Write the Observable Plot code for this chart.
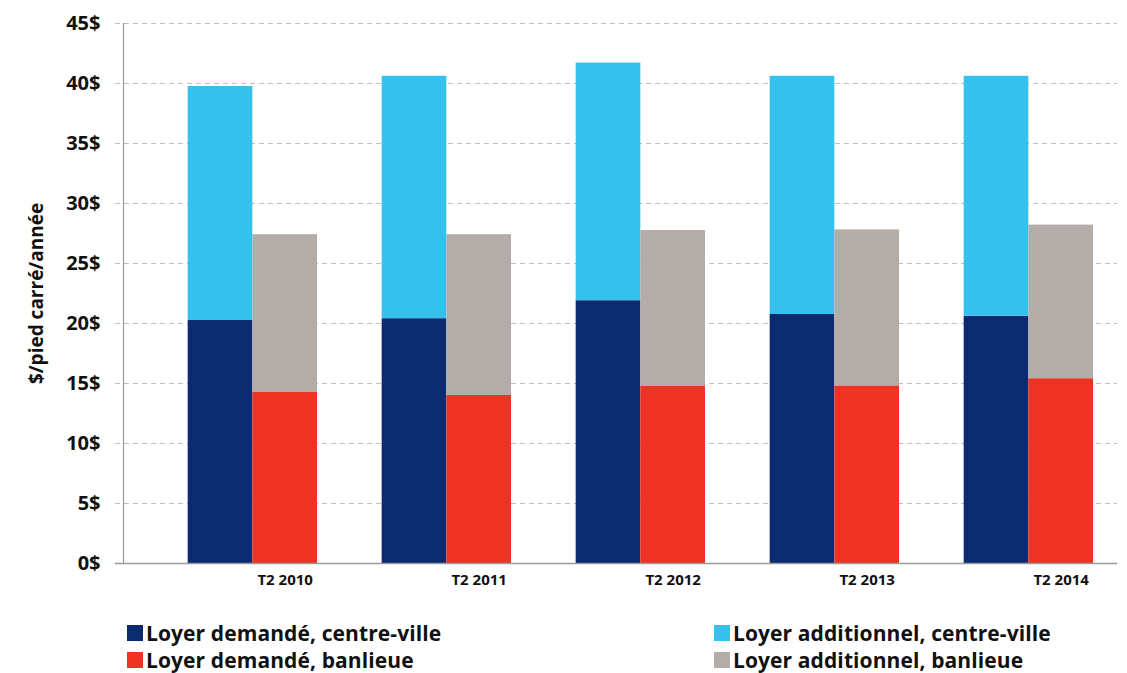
<!DOCTYPE html>
<html>
<head>
<meta charset="utf-8">
<script src="https://cdn.jsdelivr.net/npm/d3@7"></script>
<script src="https://cdn.jsdelivr.net/npm/@observablehq/plot@0.6"></script>
<style>
  html, body { margin: 0; padding: 0; background: #fff; }
  #wrap { position: relative; width: 1127px; height: 673px; overflow: hidden; font-family: "Open Sans", sans-serif; }
  .leg { position: absolute; display: flex; align-items: center; font-weight: 700; font-size: 21px; line-height: 24px; color: #111; white-space: nowrap; letter-spacing: 0.1px; }
  .sw { width: 16px; height: 16px; margin-right: 3px; }
</style>
</head>
<body>
<div id="wrap"></div>
<script>
const groups = ["T2 2010", "T2 2011", "T2 2012", "T2 2013", "T2 2014"];
const baseCentre = [20.25, 20.4, 21.9, 20.75, 20.6];       // Loyer demandé, centre-ville
const addCentre  = [19.5, 20.2, 19.8, 19.85, 20.0];        // Loyer additionnel, centre-ville
const baseBanl   = [14.25, 14.0, 14.75, 14.8, 15.4];        // Loyer demandé, banlieue
const addBanl    = [13.15, 13.4, 13.0, 13.0, 12.8];         // Loyer additionnel, banlieue
const seriesNames = ["Loyer demandé, centre-ville", "Loyer additionnel, centre-ville", "Loyer demandé, banlieue", "Loyer additionnel, banlieue"];
const seriesColors = ["#0b2a6f", "#35c1ee", "#ee3224", "#b4aca9"];
const yTicks = [0, 5, 10, 15, 20, 25, 30, 35, 40, 45];
const yLabel = "$/pied carré/année";

// each group occupies 3 slots: empty gap, centre-ville bar, banlieue bar
const rows = [];
groups.forEach((g, i) => {
  const sCV = i * 3 + 1, sBL = i * 3 + 2;
  rows.push({group: g, slot: sCV, series: seriesNames[0], y1: 0, y2: baseCentre[i]});
  rows.push({group: g, slot: sCV, series: seriesNames[1], y1: baseCentre[i], y2: baseCentre[i] + addCentre[i]});
  rows.push({group: g, slot: sBL, series: seriesNames[2], y1: 0, y2: baseBanl[i]});
  rows.push({group: g, slot: sBL, series: seriesNames[3], y1: baseBanl[i], y2: baseBanl[i] + addBanl[i]});
});
const labels = groups.map((g, i) => ({label: g, pos: i * 3 + 2.5}));

const chart = Plot.plot({
  width: 1127,
  height: 600,
  marginTop: 23,
  marginBottom: 37,
  marginLeft: 123,
  marginRight: 34,
  style: {fontFamily: "Open Sans, sans-serif", fontWeight: "700", color: "#111", background: "transparent"},
  x: {domain: [0, groups.length * 3], axis: null},
  y: {domain: [0, 45], axis: null},
  color: {domain: seriesNames, range: seriesColors},
  marks: [
    Plot.ruleY(yTicks.filter(d => d > 0), {stroke: "#bdbdbd", strokeDasharray: "5,4", insetLeft: -8, insetRight: -24}),
    Plot.rectY(rows, {x1: d => d.slot, x2: d => d.slot + 1, y1: "y1", y2: "y2", fill: "series"}),
    Plot.ruleY([0], {stroke: "#9a9a9a", strokeWidth: 1.5, insetLeft: -8, insetRight: -24}),
    Plot.ruleX([0], {stroke: "#9a9a9a", strokeWidth: 1.2}),
    Plot.axisY({ticks: yTicks, tickFormat: d => d + "$", tickSize: 0, tickPadding: 23, fontSize: 20, label: null}),
    Plot.text(labels, {x: "pos", text: "label", frameAnchor: "bottom", dy: 21, fontSize: 15, fontWeight: "700", fill: "#111"}),
    Plot.text([yLabel], {text: d => d, frameAnchor: "left", textAnchor: "middle", dx: -87, rotate: -90, fontSize: 19, fontWeight: "700", fill: "#111"})
  ]
});
const wrap = document.getElementById("wrap");
chart.style.position = "absolute";
chart.style.left = "0px";
chart.style.top = "0px";
wrap.appendChild(chart);

const legPos = [[127, 633], [714, 633], [127, 660], [714, 660]];
seriesNames.forEach((name, i) => {
  const d = document.createElement("div");
  d.className = "leg";
  d.style.left = legPos[i][0] + "px";
  d.style.top = (legPos[i][1] - 12) + "px";
  d.style.height = "24px";
  const sw = document.createElement("span");
  sw.className = "sw";
  sw.style.background = seriesColors[i];
  d.appendChild(sw);
  d.appendChild(document.createTextNode(name));
  wrap.appendChild(d);
});
</script>
</body>
</html>
